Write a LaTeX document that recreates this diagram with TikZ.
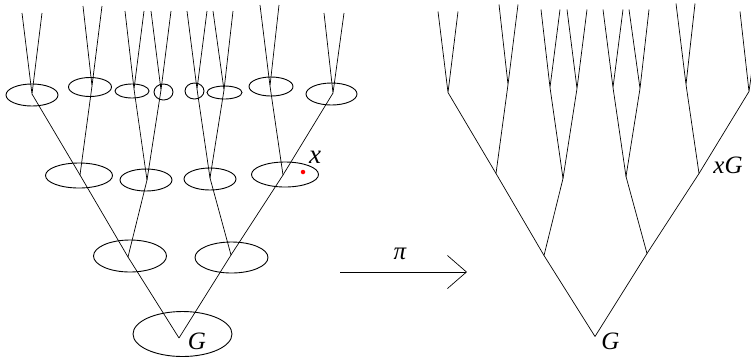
\documentclass[tikz,border=0pt]{standalone}
\usepackage{fontspec}
\setmainfont{Liberation Serif}
\usetikzlibrary{shapes.geometric,arrows.meta}
\tikzset{
  edge/.style={line width=0.7pt, black},
  ell/.style={draw, ellipse, line width=0.9pt, inner sep=0pt, outer sep=0pt},
  lab/.style={font=\fontsize{25}{27}\selectfont\itshape, inner sep=0pt, anchor=base},
}
\newcommand\treeskel{%
  \coordinate (r) at (179,338);
  \coordinate (a) at (128,257); \coordinate (b) at (231,255);
  \coordinate (aa) at (80,175); \coordinate (ab) at (147,180);
  \coordinate (ba) at (210,178); \coordinate (bb) at (283,175);
  \coordinate (aaa) at (32,94); \coordinate (aab) at (92,86);
  \coordinate (aba) at (134,89); \coordinate (abb) at (161,90);
  \coordinate (baa) at (197,89); \coordinate (bab) at (224,90);
  \coordinate (bba) at (270,86); \coordinate (bbb) at (333,93);
  \coordinate (aaa1) at (22,13); \coordinate (aaa2) at (42,13);
  \coordinate (aab1) at (83,6); \coordinate (aab2) at (102,6);
  \coordinate (aba1) at (125,11); \coordinate (aba2) at (144,11);
  \coordinate (abb1) at (151,11); \coordinate (abb2) at (171,11);
  \coordinate (baa1) at (187,11); \coordinate (baa2) at (207,11);
  \coordinate (bab1) at (213,11); \coordinate (bab2) at (233,11);
  \coordinate (bba1) at (260,5); \coordinate (bba2) at (279,5);
  \coordinate (bbb1) at (324,13); \coordinate (bbb2) at (344,13);
  \foreach \p/\c in {r/a,r/b,a/aa,a/ab,b/ba,b/bb,aa/aaa,aa/aab,ab/aba,ab/abb,ba/baa,ba/bab,bb/bba,bb/bbb}
    \draw[edge] (\p) -- (\c);
  \foreach \p in {aaa,aab,aba,abb,baa,bab,bba,bbb}
    \draw[edge] (\p) -- (\p1) (\p) -- (\p2);
}
\begin{document}
\begin{tikzpicture}[x=1pt,y=-1pt]
\useasboundingbox (0,0) rectangle (751,360);
\clip (0,0) rectangle (751,360);
% left tree
\begin{scope}[name prefix=A-]
  \treeskel
\end{scope}
% ellipses (left tree)
\foreach \n/\cx/\cy/\rx/\ry in {
  e1/32/95/26/11, e2/90/87/21.5/9.5, e3/132/91/17/7, e4/163.5/92/9.5/8,
  e5/194.5/91/9.5/8, e6/224.5/92.5/17.5/6.5, e7/271/86.5/22/9.5, e8/331.5/94/25.5/11,
  f1/79/175.5/33.5/12.5, f2/146/180/26/11, f3/210/179/26/11, f4/285/174.5/33.5/12.5,
  g1/130/256/36.5/16, g2/231.5/257.5/36.5/15.5,
  h1/182.5/334/49.5/22.5}
  \node[ell, minimum width=2*\rx pt, minimum height=2*\ry pt] (\n) at (\cx,\cy) {};
\node[circle, fill=red, inner sep=0pt, minimum size=4.5pt] (xdot) at (303,172) {};
\node[lab, font=\fontsize{27}{29}\selectfont\itshape] (xlab) at (315,163) {x};
\node[lab] (Gl) at (197,349) {G};
% right tree
\begin{scope}[name prefix=B-, shift={(416,-1.5)}]
  \treeskel
\end{scope}
\node[lab] (Gr) at (610.5,349) {G};
\node[lab] (xG) at (728,173) {xG};
% arrow
\coordinate (as) at (340,272);
\coordinate (ae) at (467,272);
\draw[edge, -{Straight Barb[length=19pt,width=33pt,line width=0.7pt]}] (as) -- (ae);
\node[lab] (pi) at (400,259) {π};
\end{tikzpicture}
\end{document}
